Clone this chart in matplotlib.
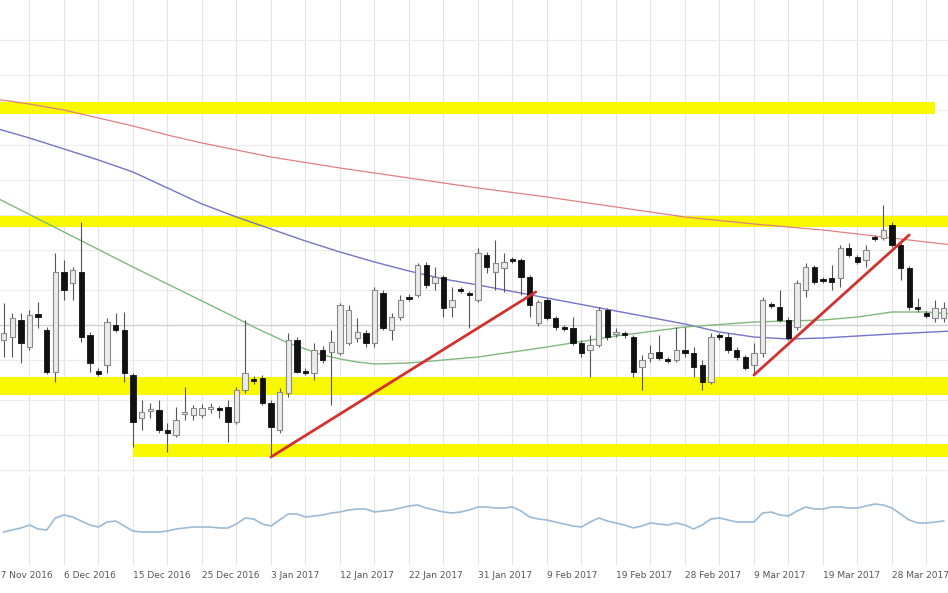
import numpy as np
import matplotlib
matplotlib.use("Agg")
import matplotlib.pyplot as plt
import matplotlib.transforms as mtransforms

# daily candles, Nov 2016 - Mar 2017
bar = list(range(1, 111))

open_ = [4.160, 4.163, 4.180, 4.153, 4.186, 4.170, 4.128, 4.228, 4.217, 4.228,
         4.165, 4.129, 4.135, 4.175, 4.170, 4.125, 4.082, 4.089, 4.090, 4.070,
         4.065, 4.086, 4.085, 4.085, 4.091, 4.092, 4.093, 4.078, 4.110, 4.121,
         4.122, 4.097, 4.070, 4.107, 4.160, 4.129, 4.127, 4.150, 4.148, 4.147,
         4.157, 4.162, 4.167, 4.157, 4.207, 4.170, 4.183, 4.203, 4.205, 4.235,
         4.217, 4.223, 4.193, 4.211, 4.207, 4.200, 4.245, 4.228, 4.232, 4.241,
         4.240, 4.223, 4.177, 4.200, 4.182, 4.173, 4.172, 4.157, 4.150, 4.155,
         4.190, 4.166, 4.167, 4.163, 4.133, 4.142, 4.148, 4.141, 4.140, 4.150,
         4.147, 4.135, 4.118, 4.165, 4.163, 4.150, 4.143, 4.135, 4.147, 4.196,
         4.193, 4.180, 4.173, 4.210, 4.233, 4.221, 4.222, 4.222, 4.252, 4.243,
         4.240, 4.263, 4.262, 4.275, 4.255, 4.232, 4.193, 4.187, 4.182, 4.182]

high = [4.197, 4.187, 4.187, 4.190, 4.198, 4.173, 4.247, 4.240, 4.233, 4.278,
        4.168, 4.132, 4.182, 4.187, 4.188, 4.127, 4.100, 4.097, 4.100, 4.077,
        4.093, 4.113, 4.095, 4.096, 4.097, 4.094, 4.100, 4.113, 4.180, 4.124,
        4.125, 4.100, 4.112, 4.167, 4.163, 4.132, 4.157, 4.154, 4.170, 4.197,
        4.195, 4.182, 4.170, 4.213, 4.210, 4.187, 4.205, 4.206, 4.237, 4.238,
        4.233, 4.225, 4.213, 4.213, 4.209, 4.252, 4.248, 4.260, 4.247, 4.243,
        4.242, 4.225, 4.200, 4.202, 4.184, 4.175, 4.183, 4.160, 4.165, 4.193,
        4.192, 4.172, 4.169, 4.165, 4.145, 4.155, 4.165, 4.143, 4.173, 4.173,
        4.153, 4.140, 4.167, 4.167, 4.167, 4.153, 4.145, 4.157, 4.203, 4.198,
        4.210, 4.183, 4.220, 4.237, 4.235, 4.223, 4.235, 4.255, 4.257, 4.245,
        4.255, 4.265, 4.295, 4.278, 4.257, 4.234, 4.202, 4.189, 4.200, 4.198]

low = [4.143, 4.143, 4.137, 4.150, 4.172, 4.126, 4.118, 4.200, 4.200, 4.158,
       4.128, 4.124, 4.127, 4.168, 4.118, 4.053, 4.070, 4.082, 4.067, 4.048,
       4.063, 4.080, 4.080, 4.082, 4.087, 4.082, 4.058, 4.076, 4.107, 4.116,
       4.095, 4.043, 4.067, 4.103, 4.127, 4.125, 4.120, 4.137, 4.095, 4.145,
       4.155, 4.158, 4.153, 4.153, 4.170, 4.160, 4.180, 4.199, 4.203, 4.212,
       4.210, 4.183, 4.183, 4.207, 4.172, 4.198, 4.227, 4.210, 4.208, 4.237,
       4.205, 4.183, 4.174, 4.180, 4.170, 4.169, 4.155, 4.143, 4.123, 4.153,
       4.160, 4.163, 4.162, 4.123, 4.110, 4.138, 4.140, 4.137, 4.138, 4.143,
       4.123, 4.110, 4.116, 4.160, 4.147, 4.140, 4.130, 4.125, 4.143, 4.192,
       4.178, 4.160, 4.170, 4.203, 4.216, 4.217, 4.210, 4.213, 4.243, 4.236,
       4.233, 4.259, 4.260, 4.253, 4.220, 4.190, 4.188, 4.182, 4.178, 4.178]

close = [4.167, 4.182, 4.157, 4.185, 4.183, 4.128, 4.228, 4.210, 4.230, 4.163,
         4.137, 4.126, 4.178, 4.170, 4.127, 4.078, 4.088, 4.091, 4.070, 4.067,
         4.080, 4.088, 4.092, 4.092, 4.093, 4.090, 4.078, 4.110, 4.127, 4.119,
         4.097, 4.073, 4.108, 4.160, 4.128, 4.127, 4.150, 4.140, 4.158, 4.195,
         4.190, 4.168, 4.157, 4.210, 4.172, 4.183, 4.200, 4.201, 4.235, 4.215,
         4.223, 4.192, 4.200, 4.209, 4.205, 4.247, 4.233, 4.237, 4.238, 4.239,
         4.223, 4.195, 4.198, 4.182, 4.173, 4.171, 4.157, 4.147, 4.155, 4.190,
         4.163, 4.168, 4.165, 4.128, 4.140, 4.147, 4.142, 4.139, 4.150, 4.147,
         4.133, 4.118, 4.163, 4.163, 4.150, 4.143, 4.132, 4.147, 4.200, 4.194,
         4.180, 4.162, 4.217, 4.233, 4.218, 4.219, 4.218, 4.252, 4.245, 4.238,
         4.250, 4.261, 4.270, 4.255, 4.232, 4.193, 4.191, 4.184, 4.192, 4.192]

# indicator in the lower panel
indicator = [16, 18, 20, 23, 19, 18, 30, 33, 31, 27,
             23, 21, 26, 27, 22, 17, 16, 16, 16, 17,
             19, 20, 21, 21, 21, 20, 20, 24, 30, 29,
             24, 22, 28, 34, 34, 31, 32, 33, 35, 36,
             38, 39, 39, 36, 37, 38, 40, 42, 43, 40,
             38, 36, 35, 36, 38, 41, 41, 40, 40, 41,
             37, 31, 29, 28, 26, 24, 22, 21, 26, 30,
             27, 25, 23, 20, 22, 25, 24, 23, 25, 23,
             19, 23, 29, 30, 28, 26, 26, 26, 35, 36,
             33, 32, 37, 41, 39, 39, 41, 41, 40, 40,
             42, 44, 43, 40, 34, 28, 25, 25, 26, 27]

# moving averages (read at a few bars)
ma_red_x = [0, 4, 8, 12, 16, 20, 24, 28, 32, 40, 48, 56, 64, 72, 80, 88, 96, 104, 111]
ma_red = [4.401, 4.396, 4.390, 4.382, 4.374, 4.365, 4.357, 4.350, 4.343, 4.332,
          4.322, 4.312, 4.303, 4.293, 4.283, 4.276, 4.270, 4.262, 4.255]
ma_blue_x = [0, 4, 8, 12, 16, 20, 24, 28, 32, 36, 40, 44, 48, 52, 56, 64, 72, 80,
             84, 88, 92, 96, 100, 104, 111]
ma_blue = [4.372, 4.362, 4.351, 4.340, 4.328, 4.312, 4.296, 4.283, 4.271, 4.259,
           4.248, 4.238, 4.229, 4.221, 4.215, 4.202, 4.189, 4.176, 4.168, 4.163,
           4.161, 4.162, 4.164, 4.166, 4.169]
ma_green_x = [0, 8, 16, 24, 28, 30, 32, 34, 36, 38, 40, 42, 44, 48, 56, 64, 72,
              80, 88, 96, 100, 104, 108, 111]
ma_green = [4.303, 4.268, 4.233, 4.199, 4.182, 4.173, 4.165, 4.157, 4.151, 4.145,
            4.141, 4.138, 4.136, 4.137, 4.143, 4.153, 4.164, 4.173, 4.178, 4.180,
            4.183, 4.188, 4.188, 4.186]

# support / resistance zones (yellow)
zone_level = [4.392, 4.279, 4.114, 4.049]
zone_half = [0.0065, 0.0055, 0.009, 0.0065]
zone_start = [0.0, 0.0, 0.0, 16]
zone_end = [109, 112, 112, 112]

# trend lines (red)
trend1_x = [32, 62.7]
trend1_y = [4.043, 4.208]
trend2_x = [88, 106]
trend2_y = [4.125, 4.265]

# date labels
label_bar = [0, 8, 16, 24, 32, 40, 48, 56, 64, 72, 80, 88, 96, 104]
label_text = ["27 Nov 2016", "6 Dec 2016", "15 Dec 2016", "25 Dec 2016", "3 Jan 2017",
              "12 Jan 2017", "22 Jan 2017", "31 Jan 2017", "9 Feb 2017", "19 Feb 2017",
              "28 Feb 2017", "9 Mar 2017", "19 Mar 2017", "28 Mar 2017"]

hgrid = [4.460, 4.425, 4.390, 4.355, 4.320, 4.285, 4.250, 4.210, 4.140, 4.100, 4.065, 4.030]

W, H = 948, 593
fig = plt.figure(figsize=(W / 100, H / 100), dpi=100)
ax = fig.add_axes([0, 1 - 472 / H, 1, 472 / H])
ax2 = fig.add_axes([0, 1 - 565 / H, 1, (565 - 476) / H])

xlim = (0.58, 110.5)
for a in (ax, ax2):
    a.set_xlim(*xlim)
    for s in a.spines.values():
        s.set_visible(False)
    a.set_xticks([])
    a.set_yticks([])
    # vertical grid every 4 bars
    for g in range(0, 112, 4):
        a.axvline(g, color="#e4e4e4", lw=0.8, zorder=0)

ax.set_ylim(4.028, 4.5)
ax2.set_ylim(-17, 72)

for h in hgrid:
    ax.axhline(h, color="#ececec", lw=0.8, zorder=0)
ax.axhline(4.175, color="#d0d0d0", lw=1.0, zorder=0)

# yellow zones
for lev, hw, x0, x1 in zip(zone_level, zone_half, zone_start, zone_end):
    ax.fill_between([x0, x1], lev - hw, lev + hw, color="#f8f800", lw=0, zorder=1)

# moving averages
ax.plot(ma_red_x, ma_red, color="#e08080", lw=0.9, zorder=2)
ax.plot(ma_blue_x, ma_blue, color="#7474c8", lw=1.0, zorder=2)
ax.plot(ma_green_x, ma_green, color="#80b880", lw=1.0, zorder=2)

# candles
o = np.array(open_)
c = np.array(close)
up = c >= o
ax.vlines(bar, low, high, color="#555555", lw=0.8, zorder=3)
body_lo = np.minimum(o, c)
body_h = np.maximum(np.abs(c - o), 0.0015)
x = np.array(bar)
ax.bar(x[up], body_h[up], bottom=body_lo[up], width=0.62, color="#ebebeb",
       edgecolor="#8a8a8a", lw=0.8, zorder=4)
ax.bar(x[~up], body_h[~up], bottom=body_lo[~up], width=0.62, color="#111111",
       edgecolor="#111111", lw=0.6, zorder=4)

# trend lines
ax.plot(trend1_x, trend1_y, color="#d43030", lw=2.0, solid_capstyle="round", zorder=5)
ax.plot(trend2_x, trend2_y, color="#d43030", lw=2.0, solid_capstyle="round", zorder=5)

# lower indicator
ax2.plot(bar, indicator, color="#9dbad4", lw=1.2, zorder=2)

# date labels (first one is cut at the left edge like in the original)
trans = mtransforms.blended_transform_factory(ax2.transData, fig.transFigure)
for b, t in zip(label_bar, label_text):
    ax2.text(b, 1 - 575 / H, t, transform=trans, ha="left", va="center",
             fontsize=6.5, color="#555555", clip_on=False)

fig.savefig("out.png", dpi=100, facecolor="white")
